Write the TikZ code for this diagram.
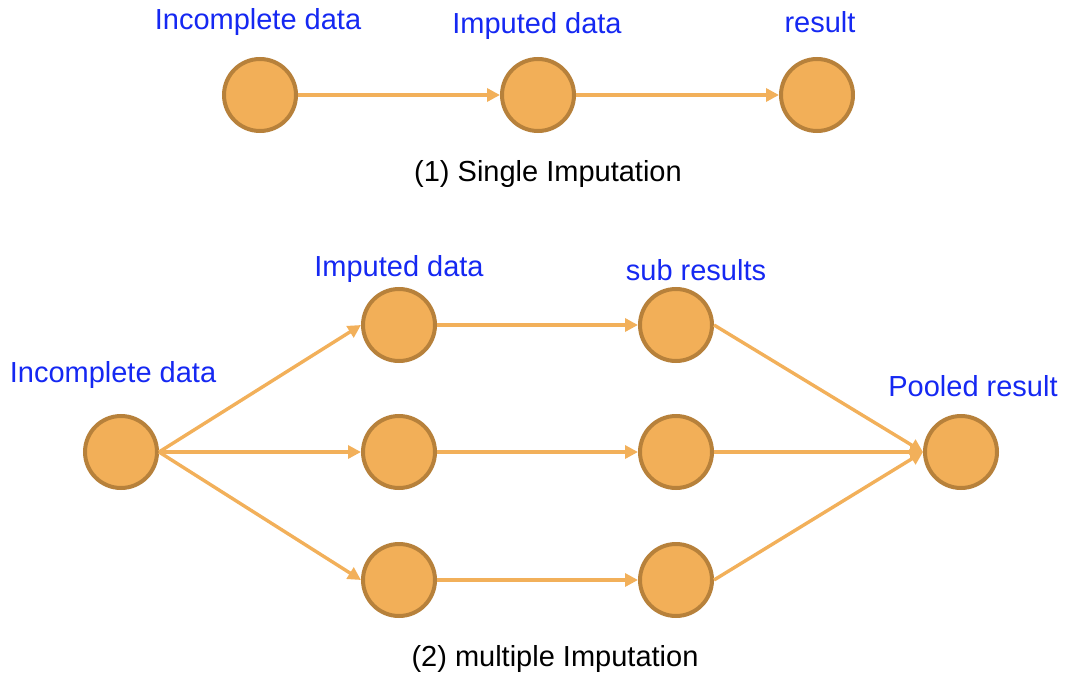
\documentclass[tikz,border=0pt]{standalone}
\usepackage{fontspec}
\setmainfont{Liberation Sans}
\usetikzlibrary{arrows.meta}
\definecolor{dotfill}{HTML}{F2AF58}
\definecolor{dotedge}{HTML}{B7813B}
\definecolor{flow}{HTML}{F2B05A}
\definecolor{lbl}{HTML}{1528F2}
\tikzset{
  dot/.style={circle, fill=dotfill, draw=dotedge, line width=4pt, minimum size=72pt, inner sep=0pt},
  flowarrow/.style={draw=flow, line width=3.4pt, -{Triangle[length=13pt,width=13pt]}},
  tag/.style={text=lbl, font=\fontsize{29}{34}\selectfont, inner sep=0pt},
  caption/.style={text=black, font=\fontsize{29}{34}\selectfont, inner sep=0pt}
}
\begin{document}
\begin{tikzpicture}[x=1pt,y=-1pt]
\useasboundingbox (0,0) rectangle (1066,674);

% single imputation chain
\node[dot] (s1) at (260,95) {};
\node[dot] (s2) at (538,95) {};
\node[dot] (s3) at (817,95) {};
\node[tag] (ts1) at (258,22) {Incomplete data};
\node[tag] (ts2) at (537,26) {Imputed data};
\node[tag] (ts3) at (820,22) {result};
\node[caption] (c1) at (548,174) {(1) Single Imputation};
\draw[flowarrow] (s1.east) -- (s2.west);
\draw[flowarrow] (s2.east) -- (s3.west);

% multiple imputation network
\node[dot] (m0) at (121,452) {};
\node[dot] (i1) at (399,325) {};
\node[dot] (i2) at (399,452) {};
\node[dot] (i3) at (399,580) {};
\node[dot] (r1) at (676,325) {};
\node[dot] (r2) at (676,452) {};
\node[dot] (r3) at (676,580) {};
\node[dot] (p) at (961,452) {};
\node[tag] (tm0) at (113,375) {Incomplete data};
\node[tag] (ti) at (399,269) {Imputed data};
\node[tag] (tr) at (696,270) {sub results};
\node[tag] (tp) at (973,386) {Pooled result};
\node[caption] (c2) at (555,659) {(2) multiple Imputation};

\foreach \k in {1,2,3} {
  \draw[flowarrow] (m0.east) -- (i\k.west);
  \draw[flowarrow] (i\k.east) -- (r\k.west);
  \draw[flowarrow] (r\k.east) -- (p.west);
}
\end{tikzpicture}
\end{document}
